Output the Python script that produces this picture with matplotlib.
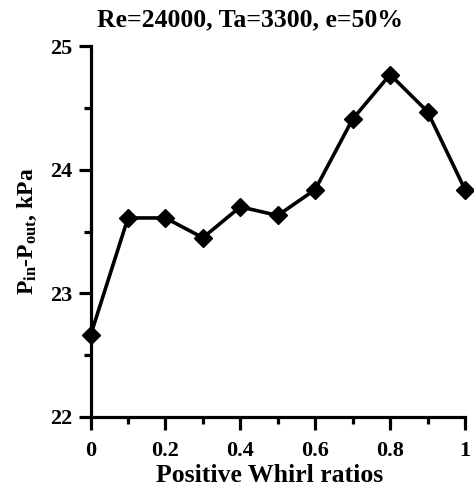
import matplotlib
matplotlib.use("Agg")
import matplotlib.pyplot as plt
from matplotlib.ticker import MultipleLocator

plt.rcParams["font.family"] = "Liberation Serif"
plt.rcParams["font.weight"] = "bold"
plt.rcParams["mathtext.fontset"] = "custom"
plt.rcParams["mathtext.rm"] = "Liberation Serif:bold"
plt.rcParams["mathtext.it"] = "Liberation Serif:bold"
plt.rcParams["mathtext.bf"] = "Liberation Serif:bold"

whirl = [0, 0.1, 0.2, 0.3, 0.4, 0.5, 0.6, 0.7, 0.8, 0.9, 1.0]
dp = [22.66, 23.61, 23.61, 23.45, 23.70, 23.63, 23.84, 24.41, 24.77, 24.47, 23.84]

fig = plt.figure(figsize=(4.74, 4.88), dpi=100)
ax = fig.add_axes([0.191, 0.1455, 0.79, 0.76])

ax.plot(whirl, dp, color="black", lw=2.6, marker="D", ms=9, clip_on=False, zorder=3)

ax.set_xlim(0, 1)
ax.set_ylim(22, 25)
ax.xaxis.set_major_locator(MultipleLocator(0.2))
ax.xaxis.set_minor_locator(MultipleLocator(0.1))
ax.yaxis.set_major_locator(MultipleLocator(1))
ax.yaxis.set_minor_locator(MultipleLocator(0.5))
ax.set_xticks([0, 0.2, 0.4, 0.6, 0.8, 1.0])
ax.set_xticklabels(["0", "0.2", "0.4", "0.6", "0.8", "1"])

for s in ["top", "right"]:
    ax.spines[s].set_visible(False)
for s in ["left", "bottom"]:
    ax.spines[s].set_linewidth(2.3)

ax.tick_params(which="major", direction="out", length=9, width=2.3, labelsize=16, pad=4)
ax.tick_params(axis="x", which="major", pad=8)
ax.tick_params(which="minor", direction="out", length=5, width=2.3)

ax.set_title("Re=24000, Ta=3300, e=50%", fontsize=18.5, fontweight="bold", pad=14, x=0.425)
ax.set_xlabel("Positive Whirl ratios", fontsize=18.5, fontweight="bold")
ax.xaxis.set_label_coords(0.479, -0.128)
ax.set_ylabel(r"P$_{\mathrm{in}}$-P$_{\mathrm{out}}$, kPa", fontsize=17, fontweight="bold", labelpad=8)

fig.savefig("out.png", dpi=100)
